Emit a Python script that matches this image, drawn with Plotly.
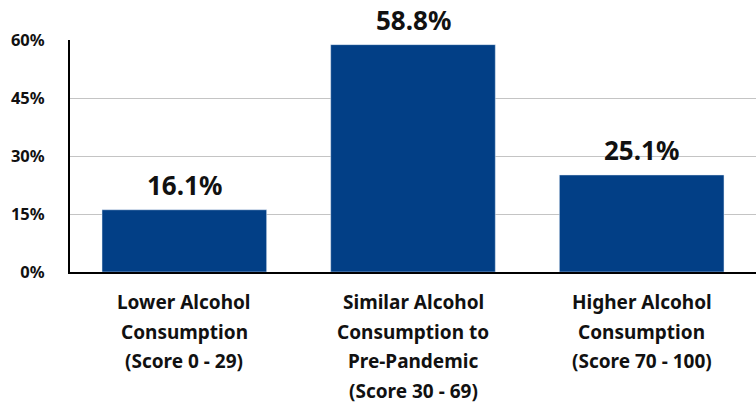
import plotly.graph_objects as go

categories = ["Lower Alcohol<br>Consumption<br>(Score 0 - 29)",
              "Similar Alcohol<br>Consumption to<br>Pre-Pandemic<br>(Score 30 - 69)",
              "Higher Alcohol<br>Consumption<br>(Score 70 - 100)"]
values = [16.1, 58.8, 25.1]
tick_vals = [0, 15, 30, 45, 60]
tick_text = ["0%", "15%", "30%", "45%", "60%"]

FONT = "Noto Sans"
BAR = "#023F86"

fig = go.Figure(go.Bar(x=list(range(len(categories))), y=values, marker_color=BAR,
                       width=0.72, hoverinfo="skip"))

ann = []
for i, (c, v) in enumerate(zip(categories, values)):
    ann.append(dict(x=i, y=v, text=f"<b>{v:.1f}%</b>", showarrow=False,
                    yanchor="bottom", yshift=6, borderpad=0,
                    font=dict(family=FONT, size=26, color="#111")))
    for j, line in enumerate(c.split("<br>")):
        ann.append(dict(x=i, y=0, text=f"<b>{line}</b>", showarrow=False,
                        yanchor="top", yshift=-15 - 29.5 * j,
                        font=dict(family=FONT, size=19, color="#111")))

fig.update_layout(
    width=756, height=412,
    margin=dict(l=70, r=0, t=40, b=140),
    plot_bgcolor="white", paper_bgcolor="white",
    showlegend=False,
    annotations=ann,
    xaxis=dict(range=[-0.5, 2.5], showticklabels=False, showgrid=False,
               showline=True, linecolor="black", linewidth=2, zeroline=False, fixedrange=True),
    yaxis=dict(range=[0, 60], tickvals=tick_vals, ticktext=[f"<b>{t}</b>" for t in tick_text],
               tickfont=dict(family=FONT, size=16.5, color="#111"),
               showgrid=True, gridcolor="#c4c4c4", gridwidth=1,
               showline=True, linecolor="black", linewidth=2, zeroline=False,
               ticklabelstandoff=20, fixedrange=True),
)
fig.write_html("out.html", config={"displayModeBar": False},
               post_script="document.body.style.margin='0';")
